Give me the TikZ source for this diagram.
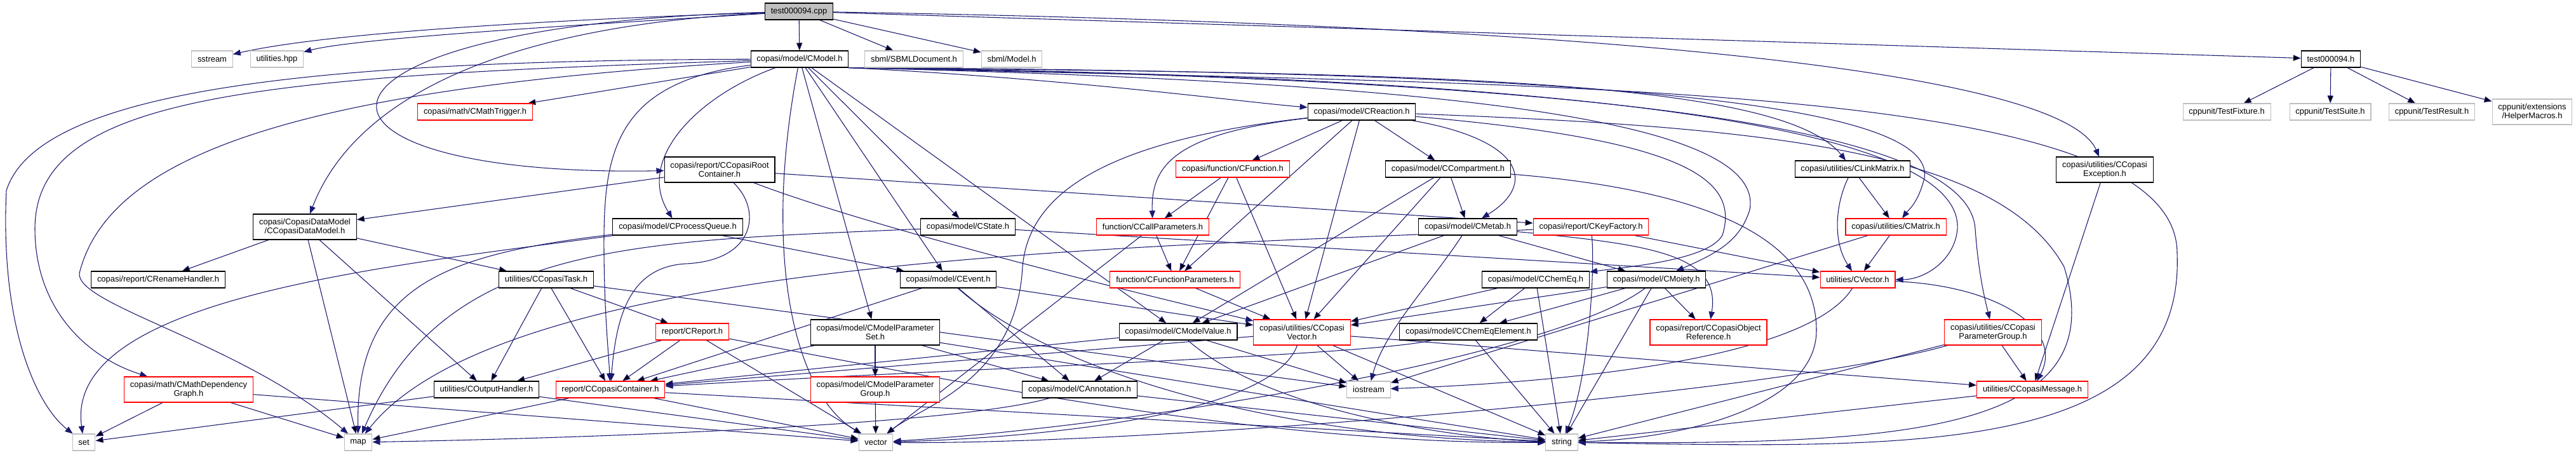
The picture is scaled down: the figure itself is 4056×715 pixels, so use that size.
\documentclass[tikz,border=0pt]{standalone}
\usepackage{fontspec}
\setmainfont{Liberation Sans}
\usetikzlibrary{arrows.meta}
\definecolor{incblue}{RGB}{25,25,112}
\definecolor{sysgrey}{RGB}{191,191,191}
\pgfdeclarelayer{bg}
\pgfsetlayers{bg,main}
\tikzset{
  hdr/.style={draw=black, fill=white, line width=0.8pt, inner xsep=7pt, inner ysep=2pt,
    minimum height=19.5pt, align=center, font=\fontsize{9.7}{10.8}\selectfont},
  trunc/.style={hdr, draw=red},
  sys/.style={hdr, draw=sysgrey},
  rootfile/.style={hdr, fill=sysgrey},
  twoline/.style={minimum height=30pt},
  inc/.style={draw=incblue, line width=0.8pt, -{Triangle[length=9pt,width=7pt]}}
}

\begin{document}
\begin{tikzpicture}[x=0.75pt, y=-0.75pt]
  \useasboundingbox (0,0) rectangle (4056,715);
  % ---- rank 0 ----
  \node[rootfile] (cpp) at (1258,18) {test000094.cpp};
  % ---- rank 1 ----
  \node[sys] (sstream) at (334,93) {sstream};
  \node[sys] (utilhpp) at (436,93) {utilities.hpp};
  \node[hdr] (CModel) at (1259,93) {copasi/model/CModel.h};
  \node[sys] (SBMLDoc) at (1439,93) {sbml/SBMLDocument.h};
  \node[sys] (SBMLModel) at (1593,93) {sbml/Model.h};
  \node[hdr] (testh) at (3670,93) {test000094.h};
  % ---- rank 2 ----
  \node[trunc] (CMathTrigger) at (748,176) {copasi/math/CMathTrigger.h};
  \node[hdr] (CReaction) at (2144,176) {copasi/model/CReaction.h};
  \node[sys] (TestFixture) at (3506,176) {cppunit/TestFixture.h};
  \node[sys] (TestSuite) at (3669,176) {cppunit/TestSuite.h};
  \node[sys] (TestResult) at (3829,176) {cppunit/TestResult.h};
  \node[sys, twoline] (HelperMacros) at (3987,176) {cppunit/extensions\\/HelperMacros.h};
  % ---- rank 3 ----
  \node[hdr, twoline] (CRootContainer) at (1133,267) {copasi/report/CCopasiRoot\\Container.h};
  \node[trunc] (CFunction) at (1941,266) {copasi/function/CFunction.h};
  \node[hdr] (CCompartment) at (2280,266) {copasi/model/CCompartment.h};
  \node[hdr] (CLinkMatrix) at (2917,266) {copasi/utilities/CLinkMatrix.h};
  \node[hdr, twoline] (CException) at (3314,267) {copasi/utilities/CCopasi\\Exception.h};
  % ---- rank 4 ----
  \node[hdr, twoline] (CDataModel) at (480,357) {copasi/CopasiDataModel\\/CCopasiDataModel.h};
  \node[hdr] (CProcessQueue) at (1067,357) {copasi/model/CProcessQueue.h};
  \node[hdr] (CState) at (1524,357) {copasi/model/CState.h};
  \node[trunc] (CCallParameters) at (1815,357) {function/CCallParameters.h};
  \node[hdr] (CMetab) at (2311,357) {copasi/model/CMetab.h};
  \node[trunc] (CKeyFactory) at (2505,357) {copasi/report/CKeyFactory.h};
  \node[trunc] (CMatrix) at (2985,357) {copasi/utilities/CMatrix.h};
  % ---- rank 5 ----
  \node[hdr] (CRenameHandler) at (249,440) {copasi/report/CRenameHandler.h};
  \node[hdr] (CCopasiTask) at (860,440) {utilities/CCopasiTask.h};
  \node[hdr] (CEvent) at (1493,440) {copasi/model/CEvent.h};
  \node[trunc] (CFunctionParameters) at (1850,440) {function/CFunctionParameters.h};
  \node[hdr] (CChemEq) at (2418,440) {copasi/model/CChemEq.h};
  \node[hdr] (CMoiety) at (2608,440) {copasi/model/CMoiety.h};
  \node[trunc] (CVector) at (2925,440) {utilities/CVector.h};
  % ---- rank 6 ----
  \node[trunc] (CReport) at (1090,522) {report/CReport.h};
  \node[hdr, twoline] (CModelParameterSet) at (1378,523) {copasi/model/CModelParameter\\Set.h};
  \node[hdr] (CModelValue) at (1855,522) {copasi/model/CModelValue.h};
  \node[trunc, twoline] (CCopasiVector) at (2050,523) {copasi/utilities/CCopasi\\Vector.h};
  \node[hdr] (CChemEqElement) at (2312,522) {copasi/model/CChemEqElement.h};
  \node[trunc, twoline] (CObjectReference) at (2690,523) {copasi/report/CCopasiObject\\Reference.h};
  \node[trunc, twoline] (CParameterGroup) at (3138,523) {copasi/utilities/CCopasi\\ParameterGroup.h};
  % ---- rank 7 ----
  \node[trunc, twoline] (CMathDepGraph) at (297,613) {copasi/math/CMathDependency\\Graph.h};
  \node[hdr] (COutputHandler) at (766,613) {utilities/COutputHandler.h};
  \node[trunc] (CCopasiContainer) at (961,613) {report/CCopasiContainer.h};
  \node[trunc, twoline] (CModelParameterGroup) at (1378,613) {copasi/model/CModelParameter\\Group.h};
  \node[hdr] (CAnnotation) at (1700,613) {copasi/model/CAnnotation.h};
  \node[sys] (iostream) at (2155,613) {iostream};
  \node[trunc] (CCopasiMessage) at (3200,613) {utilities/CCopasiMessage.h};
  % ---- rank 8: system headers ----
  \node[sys] (set) at (132,696) {set};
  \node[sys] (map) at (564,696) {map};
  \node[sys] (vector) at (1379,696) {vector};
  \node[sys] (string) at (2459,696) {string};

  \begin{pgfonlayer}{bg}
  % ---- test000094.cpp ----
  \path[inc] (cpp) edge (CModel) edge (SBMLDoc) edge (SBMLModel) edge (testh);
  \draw[inc] (cpp) .. controls (900,30) and (520,50) .. (sstream);
  \draw[inc] (cpp) .. controls (900,40) and (560,60) .. (utilhpp);
  \draw[inc] (cpp) .. controls (800,40) and (560,150) .. (CDataModel);
  \draw[inc] (cpp) .. controls (420,40) and (420,280) .. (CRootContainer);
  \draw[inc] (cpp) .. controls (2600,40) and (3250,120) .. (CException);
  \path[inc] (testh) edge (TestFixture) edge (TestSuite) edge (TestResult) edge (HelperMacros);
  \path[inc] (CException) edge (CCopasiMessage);
  % ---- CModel.h ----
  \path[inc] (CModel) edge (CMathTrigger) edge (CState) edge (CModelParameterSet)
    edge (CModelValue) edge (CEvent);
  \draw[inc] (CModel) .. controls (500,95) and (60,140) .. (10,300) .. controls (0,520) and (60,640) .. (set);
  \draw[inc] (CModel) .. controls (400,120) and (55,150) .. (55,360) .. controls (55,480) and (130,560) .. (CMathDepGraph);
  \draw[inc] (CModel) .. controls (450,140) and (170,250) .. (125,430) .. controls (120,480) and (380,540) .. (map);
  \draw[inc] (CModel) .. controls (1100,150) and (1000,250) .. (CProcessQueue);
  \draw[inc] (CModel) .. controls (960,130) and (950,250) .. (951,400) .. controls (952,500) and (958,550) .. (CCopasiContainer);
  \draw[inc] (CModel) .. controls (1200,400) and (1250,620) .. (vector);
  \draw[inc] (CModel.south east) .. controls (1700,125) and (1950,160) .. (CReaction);
  \draw[inc] (CModel.south east) .. controls (2200,115) and (2800,120) .. (CLinkMatrix);
  \draw[inc] (CModel.south east) .. controls (2300,130) and (2780,190) .. (2755,330) .. controls (2740,380) and (2700,400) .. (CMoiety);
  \draw[inc] (CModel.south east) .. controls (2400,112) and (3050,150) .. (3030,280) .. controls (3020,320) and (3005,330) .. (CMatrix);
  \draw[inc] (CModel.south east) .. controls (2500,120) and (3090,200) .. (3082,360) .. controls (3078,410) and (3030,440) .. (CVector);
  \draw[inc] (CModel.south east) .. controls (2600,125) and (3100,210) .. (3110,360) .. controls (3115,430) and (3125,470) .. (CParameterGroup);
  \draw[inc] (CModel.south east) .. controls (2500,135) and (3430,130) .. (3428,400) .. controls (3440,720) and (3000,705) .. (string);
  % ---- CReaction.h ----
  \path[inc] (CReaction) edge (CFunction) edge (CFunctionParameters) edge (CCopasiVector) edge (CCompartment);
  \draw[inc] (CReaction) .. controls (1850,210) and (1812,260) .. (CCallParameters);
  \draw[inc] (CReaction) .. controls (2400,220) and (2420,290) .. (CMetab);
  \draw[inc] (CReaction) .. controls (2650,220) and (2740,280) .. (2712,370) .. controls (2690,410) and (2560,420) .. (CChemEq);
  \draw[inc] (CReaction) .. controls (1750,220) and (1620,300) .. (1610,420) .. controls (1600,600) and (1450,640) .. (vector);
  \draw[inc] (CReaction) .. controls (2800,200) and (3150,240) .. (3250,420) .. controls (3330,680) and (3000,700) .. (string);
  % ---- rank 3 headers ----
  \path[inc] (CRootContainer) edge (CDataModel) edge (CKeyFactory);
  \draw[inc] (CRootContainer) .. controls (1200,330) and (1190,410) .. (1080,415) .. controls (990,420) and (970,500) .. (CCopasiContainer);
  \draw[inc] (CRootContainer) .. controls (1350,350) and (1700,440) .. (CCopasiVector);
  \path[inc] (CFunction) edge (CCallParameters) edge (CFunctionParameters) edge (CCopasiVector);
  \path[inc] (CCompartment) edge (CMetab) edge (CCopasiVector) edge (CModelValue);
  \draw[inc] (CCompartment) .. controls (2700,300) and (2860,380) .. (2860,520) .. controls (2860,640) and (2650,690) .. (string);
  \path[inc] (CLinkMatrix) edge (CMatrix);
  \draw[inc] (CLinkMatrix) .. controls (2890,320) and (2885,380) .. (CVector);
  % ---- rank 4 headers ----
  \path[inc] (CDataModel) edge (CRenameHandler) edge (CCopasiTask) edge (COutputHandler) edge (map);
  \path[inc] (CProcessQueue) edge (CEvent);
  \draw[inc] (CProcessQueue) .. controls (600,420) and (100,470) .. (set);
  \draw[inc] (CProcessQueue) .. controls (700,400) and (560,450) .. (map);
  \path[inc] (CState) edge (CVector);
  \draw[inc] (CState) .. controls (1000,380) and (700,380) .. (map);
  \path[inc] (CCallParameters) edge (CFunctionParameters) edge (vector);
  \path[inc] (CMetab) edge (CMoiety) edge (CModelValue);
  \draw[inc] (CMetab) .. controls (2600,385) and (2710,400) .. (CObjectReference);
  \draw[inc] (CMetab) .. controls (2250,450) and (2180,520) .. (iostream);
  \path[inc] (CKeyFactory) edge (CVector);
  \draw[inc] (CKeyFactory) .. controls (1800,390) and (800,400) .. (map);
  \draw[inc] (CKeyFactory) .. controls (2512,430) and (2500,600) .. (string);
  \path[inc] (CMatrix) edge (CVector) edge (iostream);
  % ---- rank 5 headers ----
  \path[inc] (CCopasiTask) edge (COutputHandler) edge (CCopasiContainer) edge (CReport) edge (iostream);
  \path[inc] (CEvent) edge (CAnnotation) edge (CCopasiVector) edge (CCopasiContainer);
  \draw[inc] (CEvent) .. controls (1650,580) and (2000,690) .. (string);
  \path[inc] (CFunctionParameters) edge (CCopasiVector);
  \path[inc] (CChemEq) edge (CChemEqElement) edge (CCopasiVector) edge (string);
  \path[inc] (CMoiety) edge (CChemEqElement) edge (CObjectReference) edge (CCopasiVector) edge (string);
  \draw[inc] (CMoiety) .. controls (2450,560) and (1800,670) .. (vector);
  \draw[inc] (CVector) .. controls (2850,560) and (2500,600) .. (iostream);
  \draw[inc] (CVector) .. controls (3150,450) and (3250,520) .. (CCopasiMessage);
  % ---- rank 6 headers ----
  \path[inc] (CReport) edge (COutputHandler) edge (CCopasiContainer) edge (vector);
  \draw[inc] (CReport) .. controls (1500,600) and (2000,700) .. (string);
  \path[inc] (CModelParameterSet) edge (CModelParameterGroup) edge (CAnnotation)
    edge (CCopasiContainer) edge (string);
  \path[inc] (CModelValue) edge (CCopasiContainer) edge (CAnnotation) edge (iostream);
  \draw[inc] (CModelValue) .. controls (2000,650) and (2300,690) .. (string);
  \path[inc] (CCopasiVector) edge (CCopasiContainer) edge (CCopasiMessage) edge (iostream) edge (string);
  \draw[inc] (CCopasiVector) .. controls (2000,660) and (1600,690) .. (vector);
  \path[inc] (CChemEqElement) edge (string);
  \draw[inc] (CChemEqElement) .. controls (2150,560) and (1500,580) .. (CCopasiContainer);
  \path[inc] (CParameterGroup) edge (CCopasiMessage) edge (string);
  \draw[inc] (CParameterGroup) .. controls (2800,620) and (1800,700) .. (vector);
  % ---- rank 7 headers ----
  \path[inc] (CMathDepGraph) edge (set) edge (map) edge (vector);
  \path[inc] (COutputHandler) edge (set) edge (vector);
  \path[inc] (CCopasiContainer) edge (map) edge (vector) edge (string);
  \path[inc] (CModelParameterGroup) edge (vector);
  \path[inc] (CAnnotation) edge (string);
  \draw[inc] (CAnnotation) .. controls (1500,670) and (900,690) .. (map);
  \path[inc] (CCopasiMessage) edge (string);
  \end{pgfonlayer}
\end{tikzpicture}
\end{document}
